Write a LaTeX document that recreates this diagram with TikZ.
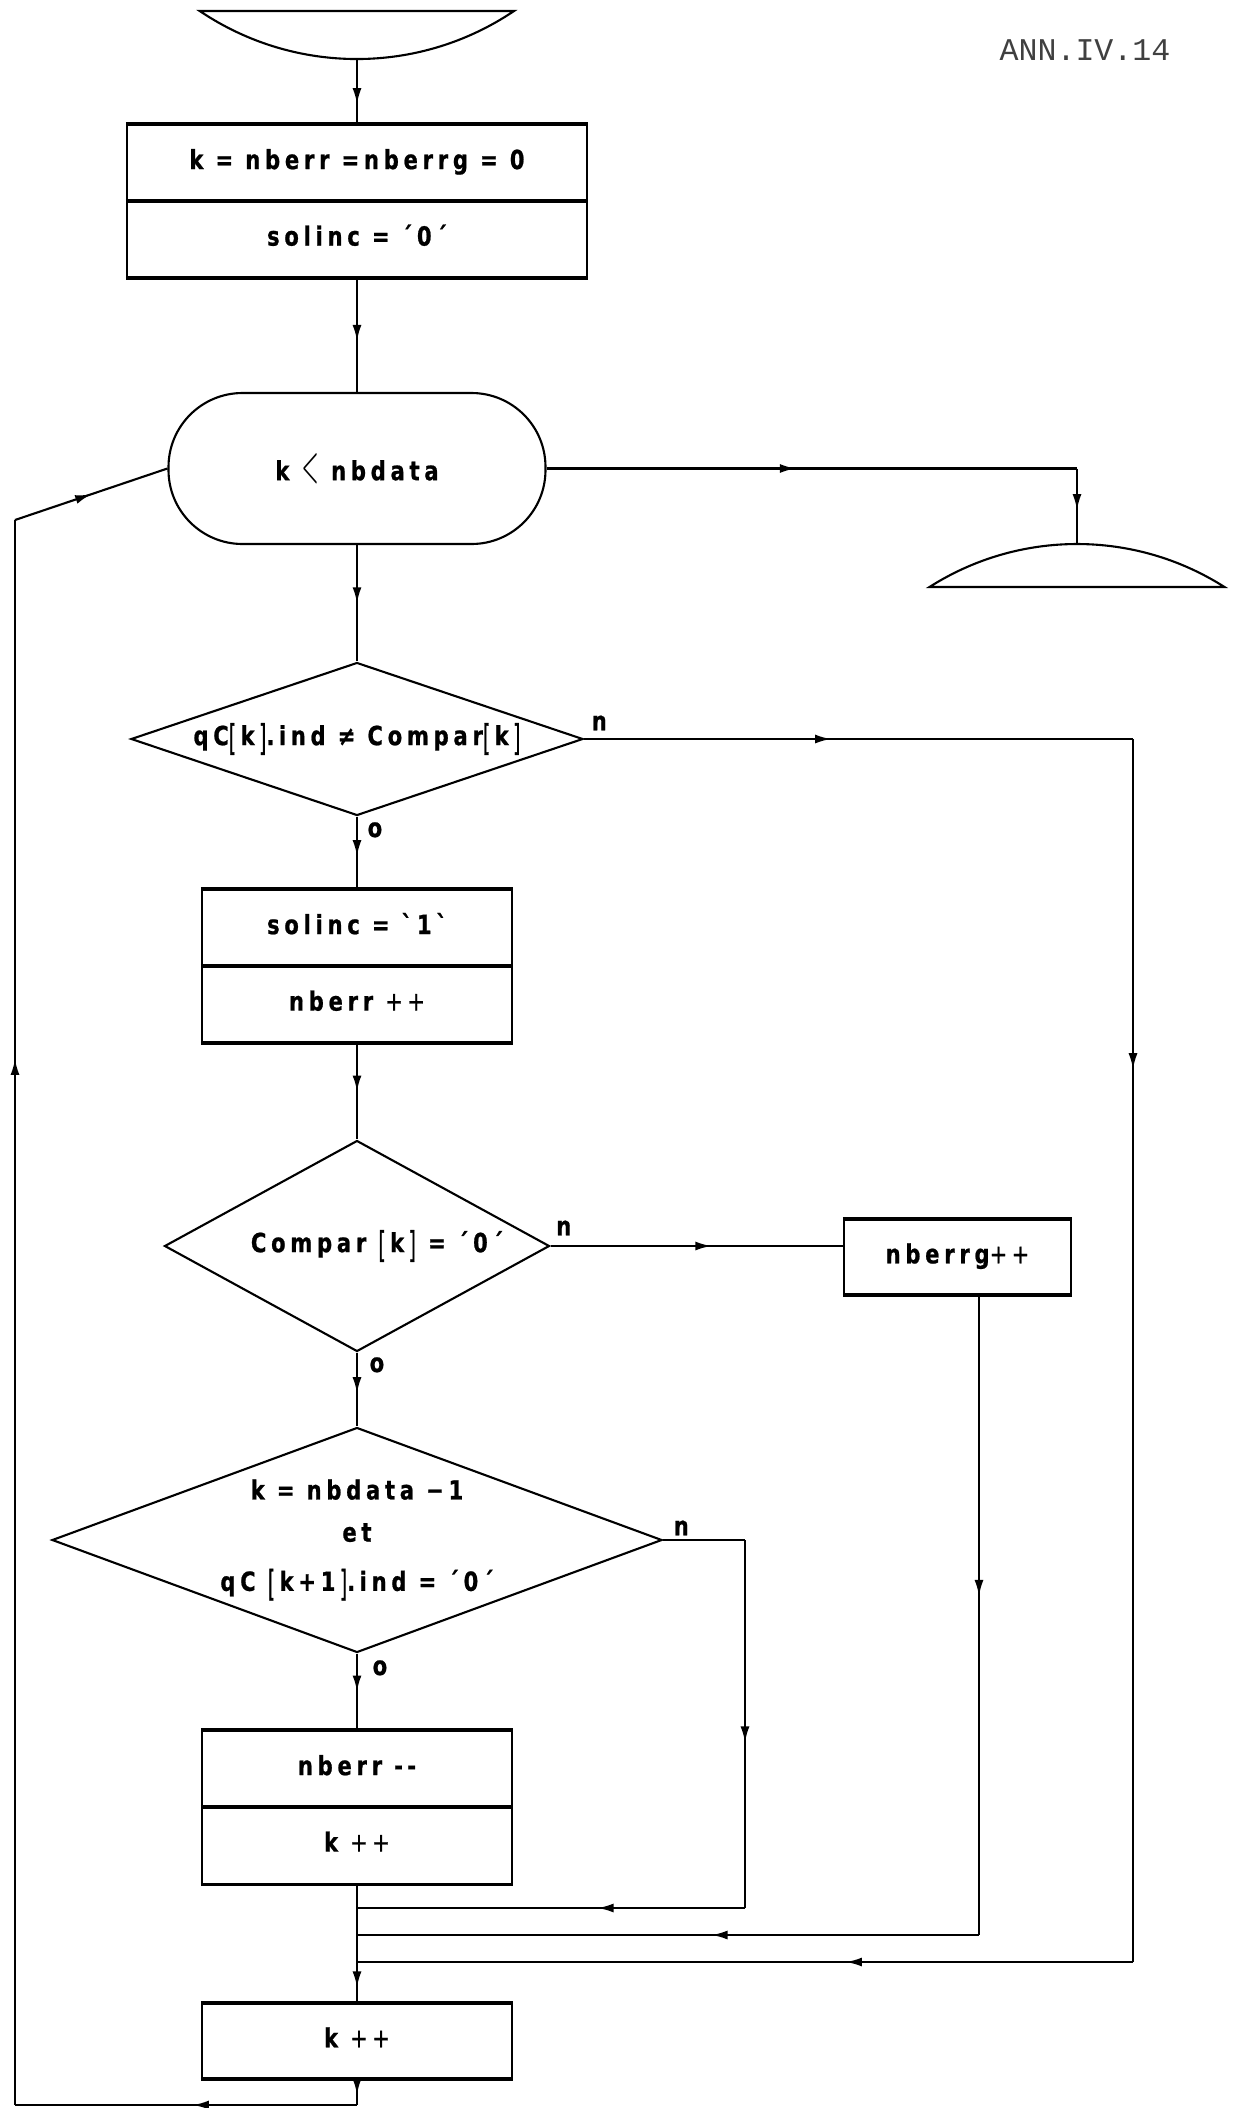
\documentclass[tikz,border=0pt]{standalone}
\usepackage{fontspec}
\usetikzlibrary{positioning, calc, shapes.geometric, shapes.multipart, decorations.markings, arrows.meta}
\newfontfamily\flowfont{DejaVu Sans}[FakeStretch=0.8, FakeBold=0.8, LetterSpace=18]
\newfontfamily\annfont{Liberation Mono}
\newcommand\sqb[1]{\raisebox{-0.35ex}{\scalebox{0.9}[1.35]{\mdseries#1}}}
\newcommand\idx[1]{\sqb{[}\,#1\,\sqb{]}}

\tikzset{
  line/.style={line width=0.6pt},
  flow/.style={line, postaction={decorate},
    decoration={markings, mark=at position #1 with {\arrow{Latex[length=1.6mm, width=0.9mm]}}}},
  flow/.default=0.5,
  edge/.style={line width=1pt},
  proc/.style={draw, line, inner xsep=0pt, inner ysep=2.14mm,
    font=\flowfont\bfseries\fontsize{7.5}{9}\selectfont},
  procsplit/.style={proc, rectangle split, rectangle split parts=2},
  looptest/.style={draw, line, rectangle, rounded corners=7.4mm,
    font=\flowfont\bfseries\fontsize{7.5}{9}\selectfont},
  decision/.style={diamond, draw, line, inner xsep=-1.5mm, inner ysep=-0.5mm, align=center,
    font=\flowfont\bfseries\fontsize{7.5}{12}\selectfont},
  tag/.style={inner sep=0pt, font=\flowfont\bfseries\fontsize{7.5}{9}\selectfont},
}

\begin{document}
\begin{tikzpicture}[>=Latex, x=0.1mm, y=0.1mm]
  \useasboundingbox (0,0) rectangle (1233,-2108);

  \node[font=\annfont\fontsize{9}{9}\selectfont, text=black!75] (annexe) at (1085,-50) {ANN.IV.14};

  % start and stop
  \draw[line] (200,-11) -- (514,-11) arc[start angle=-56, end angle=-124, radius=28.1mm] -- cycle;
  \coordinate (debut) at (357,-59);
  \draw[line] (929.5,-587) arc[start angle=122.5, end angle=57.5, radius=27.45mm] -- cycle;
  \coordinate (fin) at (1077,-544);

  % main column
  \node[procsplit, minimum width=46mm] (init) at (357,-201)
    {\strut k = nberr =nberrg = 0\nodepart{two}\strut solinc = ´0´};
  \node[looptest, minimum width=37.7mm, minimum height=15.1mm] (test) at (357,-468.5)
    {k \scalebox{0.8}[1.9]{\mdseries$<$} nbdata};
  \node[decision, aspect=2.95, minimum width=45.2mm, minimum height=15.3mm] (cmp1) at (357,-739)
    {qC\idx{k}.\,ind ≠ Compar\idx{k}};
  \node[procsplit, minimum width=31mm] (setsol) at (357,-966)
    {\strut solinc = ˋ1ˋ\nodepart{two}\strut nberr {\mdseries+\,+}};
  \node[decision, aspect=1.82, minimum width=38.5mm, minimum height=21.1mm] (cmp2) at (357,-1246)
    {\hspace*{4mm}Compar \idx{k} = ´0´};
  \node[proc, minimum width=22.7mm] (cntg) at (957.5,-1257) {\strut nberrg{\mdseries+\,+}};
  \node[decision, aspect=2.71, minimum width=61mm, minimum height=22.5mm] (cmp3) at (357,-1540)
    {k = nbdata −1\\et\\[2pt]qC \idx{k+1}.\,ind = ´0´};
  \node[procsplit, minimum width=31mm] (decr) at (357,-1807)
    {\strut nberr -\,-\nodepart{two}\strut k {\mdseries+\,+}};
  \node[proc, minimum width=31mm] (incr) at (357,-2041) {\strut k {\mdseries+\,+}};

  % heavier rules on the boxes
  \foreach \b in {init,setsol,cntg,decr,incr}
    \draw[edge] (\b.north west) -- (\b.north east) (\b.south west) -- (\b.south east);
  \foreach \b in {init,setsol,decr}
    \draw[edge] (\b.text split west) -- (\b.text split east);

  % branch labels
  \node[tag, above right=0.8mm and 0.7mm of cmp1.east] (n1) {n};
  \node[tag, below right=0.5mm and 1mm of cmp1.south] (o1) {o};
  \node[tag, above right=1mm and 0.5mm of cmp2.east] (n2) {n};
  \node[tag, below right=0.4mm and 1.2mm of cmp2.south] (o2) {o};
  \node[tag, above right=0.4mm and 1mm of cmp3.east] (n3) {n};
  \node[tag, below right=0.6mm and 1.5mm of cmp3.south] (o3) {o};

  \coordinate (m1) at (357,-1908);
  \coordinate (m2) at (357,-1935);
  \coordinate (m3) at (357,-1962);
  \coordinate (laneA) at (745,0);
  \coordinate (laneB) at ([xshift=2.15mm]cntg.south);
  \coordinate (laneC) at (1133,0);
  \coordinate (loopbot) at (15,-2105);
  \coordinate (looptop) at (15,-520);

  \draw[flow=0.7] (debut) -- (init.north);
  \draw[flow=0.55] (init.south) -- (test.north);
  \draw[flow=0.47] (test.east) -- (test.east -| fin);
  \draw[flow=0.55] (test.east -| fin) -- (fin);
  \draw[flow=0.5] (test.south) -- (cmp1.north);
  \draw[flow=0.45] (cmp1.east) -- (cmp1.east -| laneC);
  \draw[flow=0.27] (cmp1.east -| laneC) -- (laneC |- m3);
  \draw[flow=0.37] (laneC |- m3) -- (m3);
  \draw[flow=0.55] (cmp1.south) -- (setsol.north);
  \draw[flow=0.5] (setsol.south) -- (cmp2.north);
  \draw[flow=0.55] (cmp2.east) -- (cmp2.east -| cntg.west);
  \draw[flow=0.47] (laneB) -- (laneB |- m2);
  \draw[flow=0.43] (laneB |- m2) -- (m2);
  \draw[flow=0.55] (cmp2.south) -- (cmp3.north);
  \draw[line] (cmp3.east) -- (cmp3.east -| laneA);
  \draw[flow=0.55] (cmp3.east -| laneA) -- (laneA |- m1);
  \draw[flow=0.38] (laneA |- m1) -- (m1);
  \draw[flow=0.5] (cmp3.south) -- (decr.north);
  \draw[flow=0.87] (decr.south) -- (incr.north);
  \draw[flow=0.6] (incr.south) -- (incr.south |- loopbot);
  \draw[flow=0.48] (incr.south |- loopbot) -- (loopbot);
  \draw[flow=0.66] (loopbot) -- (looptop);
  \draw[flow=0.5] (looptop) -- (test.west);
\end{tikzpicture}
\end{document}
